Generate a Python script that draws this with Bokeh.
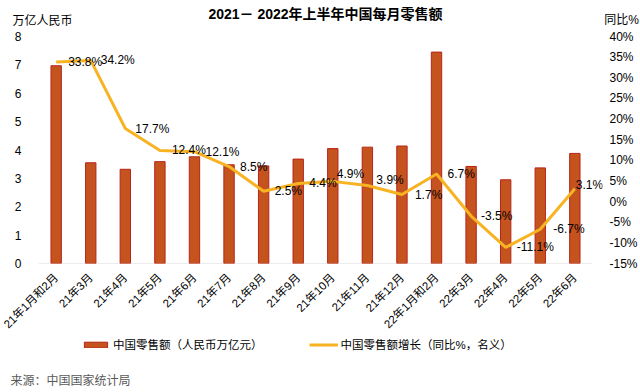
import math
from bokeh.plotting import figure
from bokeh.layouts import column
from bokeh.models import (Range1d, LinearAxis, Legend, LegendItem,
                          ColumnDataSource, FactorRange, FixedTicker,
                          PrintfTickFormatter)
from bokeh.core.properties import value
from bokeh.embed import file_html
from bokeh.resources import INLINE

categories = ["21年1月和2月", "21年3月", "21年4月", "21年5月", "21年6月", "21年7月",
              "21年8月", "21年9月", "21年10月", "21年11月", "21年12月", "22年1月和2月",
              "22年3月", "22年4月", "22年5月", "22年6月"]
sales = [6.97, 3.55, 3.32, 3.59, 3.76, 3.48, 3.44, 3.68, 4.05, 4.10, 4.14, 7.45,
         3.42, 2.95, 3.37, 3.88]
growth = [33.8, 34.2, 17.7, 12.4, 12.1, 8.5, 2.5, 4.4, 4.9, 3.9, 1.7, 6.7,
          -3.5, -11.1, -6.7, 3.1]
left_ticks = [0, 1, 2, 3, 4, 5, 6, 7, 8]
right_ticks = [-15, -10, -5, 0, 5, 10, 15, 20, 25, 30, 35, 40]

# data-label nudges (screen px, y down) as placed in the original chart
label_dx = [12, 10, 10, 12, 11, 11, 11, 11, 4, 9, 13, 11, 10, 11, 13, 1]
label_dy = [0, 0, 0, 0, 0, 0, 0, 0, -7, -5, 0, 0, 0, 0, 0, -4]

title_text = "2021－ 2022年上半年中国每月零售额"
left_title = "万亿人民币"
right_title = "同比%"
bar_name = "中国零售额（人民币万亿元）"
line_name = "中国零售额增长（同比%，名义）"
source_text = "来源：中国国家统计局"

FONT = "Liberation Sans, Noto Sans CJK SC"
BAR_FILL = "#C4531E"
BAR_LINE = "#B8241A"
LINE_COL = "#F8B323"
W = 640


def strip(h):
    f = figure(width=W, height=h, x_range=Range1d(0, W), y_range=Range1d(0, h),
               x_axis_type=None, y_axis_type=None, output_backend="svg",
               toolbar_location=None, min_border=0, frame_align=False)
    f.outline_line_color = None
    return f


def note(f, x, y, txt, size="12px", color="#000000", style="normal"):
    f.text(x=[x], y=[y], text=[txt], text_align="center", text_baseline="middle",
           text_font=value(FONT), text_font_size=size, text_font_style=style,
           text_color=color)


# ---- top strip: title and axis titles
top = strip(28)
note(top, 325, 15, title_text, size="14px", style="bold")
note(top, 42, 8, left_title)
note(top, 621, 9, right_title)

# ---- main chart
src = ColumnDataSource(dict(
    cat=categories, sales=sales, growth=growth,
    lbl=[f"{g:.1f}%" for g in growth],
    dx=label_dx, dy=label_dy,
))

p = figure(width=W, height=309,
           x_range=FactorRange(*categories, range_padding=0.3,
                               range_padding_units="absolute"),
           y_range=Range1d(0, 8),
           output_backend="svg", toolbar_location=None,
           min_border_left=28, min_border_right=35,
           min_border_top=8, min_border_bottom=72, frame_align=False)
p.extra_y_ranges = {"pct": Range1d(-15, 40)}
p.outline_line_color = None
p.xgrid.visible = False
p.ygrid.visible = False

p.yaxis.ticker = FixedTicker(ticks=left_ticks)
p.yaxis.axis_line_color = None
p.yaxis.major_tick_line_color = None
p.yaxis.minor_tick_line_color = None
p.yaxis.major_label_text_font = FONT
p.yaxis.major_label_text_font_size = "12px"
p.yaxis.major_label_text_color = "#000000"
p.yaxis.major_label_standoff = 1

ra = LinearAxis(y_range_name="pct", ticker=FixedTicker(ticks=right_ticks),
                formatter=PrintfTickFormatter(format="%d%%"))
ra.axis_line_color = None
ra.major_tick_line_color = None
ra.minor_tick_line_color = None
ra.major_label_text_font = FONT
ra.major_label_text_font_size = "12px"
ra.major_label_text_color = "#000000"
ra.major_label_standoff = 1
p.add_layout(ra, "right")

p.xaxis.axis_line_color = None
p.xaxis.major_tick_line_color = None
p.xaxis.minor_tick_line_color = None
p.xaxis.major_label_orientation = math.pi / 4
p.xaxis.major_label_text_font = FONT
p.xaxis.major_label_text_font_size = "11.5px"
p.xaxis.major_label_text_color = "#000000"
p.xaxis.major_label_standoff = 6

# baseline spanning the category band only
p.segment(x0=[(categories[0], -0.5)], y0=[0], x1=[(categories[-1], 0.5)], y1=[0],
          line_color="#D9D9D9", line_width=1)

p.vbar(x="cat", top="sales", width=0.3, source=src,
       fill_color=BAR_FILL, line_color=BAR_LINE, line_width=1)
p.line(x="cat", y="growth", source=src, y_range_name="pct",
       line_color=LINE_COL, line_width=3)
p.text(x="cat", y="growth", text="lbl", source=src, y_range_name="pct",
       x_offset="dx", y_offset="dy", text_align="left", text_baseline="middle",
       text_font_size="12px", text_color="#000000", text_font=value(FONT))

# ---- bottom strip: legend and source
bot = strip(55)
proxy = ColumnDataSource(dict(x=[float("nan")], y=[float("nan")], top=[float("nan")]))
r_bar = bot.vbar(x="x", top="top", width=1, source=proxy,
                 fill_color=BAR_FILL, line_color=BAR_LINE, line_width=1)
r_line = bot.line(x="x", y="y", source=proxy, line_color=LINE_COL, line_width=3)
legend = Legend(items=[LegendItem(label=bar_name, renderers=[r_bar]),
                       LegendItem(label=line_name, renderers=[r_line])],
                orientation="horizontal", location=(81, 40),
                label_text_font=FONT, label_text_font_size="11.5px",
                label_text_color="#000000", label_height=14,
                glyph_width=29, glyph_height=7, spacing=46, label_standoff=3,
                border_line_color=None, background_fill_alpha=0,
                padding=0, margin=0)
bot.add_layout(legend, "center")
note(bot, 70, 12, source_text, color="#595959")

layout = column(top, p, bot, spacing=0)
open("out.html", "w").write(file_html(layout, INLINE))
